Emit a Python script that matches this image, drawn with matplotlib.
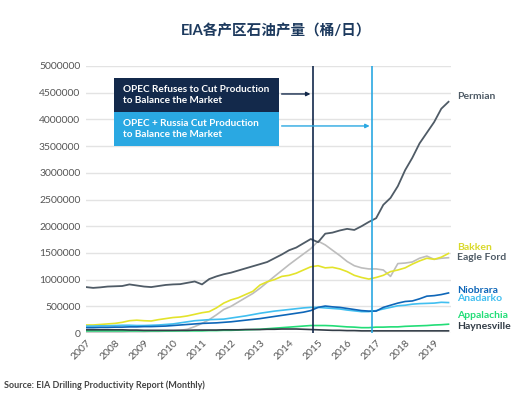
import numpy as np
import pandas as pd
import matplotlib
matplotlib.use("Agg")
import matplotlib.pyplot as plt

plt.rcParams['font.family'] = ['Lato', 'Noto Sans CJK SC', 'DejaVu Sans']

# ---------------- DATA (thousand barrels / day, quarterly) ----------------
dates = pd.date_range('2007-01-01', '2019-07-01', freq='QS')

permian = [860, 845, 855, 870, 875, 880, 910, 890, 870, 860, 880, 900,
           910, 915, 940, 965, 910, 1010, 1060, 1100, 1130, 1170, 1210, 1250,
           1290, 1330, 1400, 1470, 1550, 1600, 1680, 1760, 1700, 1860, 1880, 1920,
           1950, 1930, 2000, 2080, 2150, 2400, 2530, 2750, 3050, 3280, 3550, 3750,
           3950, 4200, 4330]
eagle_ford = [20, 20, 20, 20, 20, 20, 25, 25, 25, 30, 30, 35,
              40, 50, 70, 120, 180, 250, 340, 440, 500, 580, 660, 740,
              840, 950, 1060, 1170, 1280, 1380, 1480, 1580, 1720, 1650, 1550, 1450,
              1340, 1260, 1220, 1200, 1200, 1180, 1060, 1300, 1310, 1330, 1400, 1440,
              1380, 1400, 1410]
bakken = [150, 150, 160, 170, 180, 200, 230, 240, 230, 225, 250, 270,
          290, 300, 320, 350, 380, 400, 470, 560, 620, 660, 720, 780,
          900, 960, 1000, 1060, 1080, 1120, 1180, 1240, 1260, 1220, 1230, 1200,
          1150, 1080, 1040, 1010, 1040, 1080, 1150, 1180, 1220, 1290, 1350, 1400,
          1380, 1420, 1490]
niobrara = [100, 100, 105, 105, 110, 110, 115, 115, 120, 120, 125, 130,
            140, 150, 160, 170, 180, 185, 190, 200, 210, 225, 240, 255,
            270, 290, 310, 330, 350, 370, 390, 420, 480, 505, 490, 480,
            460, 440, 420, 410, 410, 480, 520, 560, 590, 600, 640, 690,
            700, 720, 750]
anadarko = [130, 130, 135, 135, 140, 145, 145, 140, 140, 145, 150, 160,
            170, 190, 210, 230, 240, 250, 255, 260, 280, 300, 320, 345,
            370, 390, 410, 425, 440, 455, 470, 480, 480, 470, 460, 450,
            430, 415, 400, 400, 420, 450, 480, 510, 520, 540, 550, 555,
            560, 575, 570]
appalachia = [40, 40, 40, 40, 40, 40, 40, 40, 40, 40, 40, 40,
              40, 40, 40, 40, 40, 45, 45, 50, 50, 55, 60, 65,
              70, 80, 90, 100, 110, 120, 130, 140, 140, 140, 135, 125,
              115, 110, 100, 100, 110, 110, 115, 115, 125, 130, 135, 140,
              150, 155, 165]
haynesville = [60, 60, 60, 60, 60, 60, 55, 55, 50, 50, 50, 50,
               50, 50, 50, 55, 55, 55, 55, 60, 60, 60, 65, 65,
               65, 70, 70, 75, 75, 75, 70, 65, 60, 55, 50, 50,
               45, 45, 40, 40, 40, 40, 40, 40, 40, 40, 40, 40,
               40, 40, 40]

# name, values, line colour, label colour, label y (barrels/day)
series = [
    ("Eagle Ford", eagle_ford, "#bdbdbd", "#4f5b66", 1420000),
    ("Bakken", bakken, "#e3e32b", "#d9d92a", 1610000),
    ("Anadarko", anadarko, "#41bff0", "#41bff0", 637000),
    ("Niobrara", niobrara, "#0e66b8", "#0e66b8", 805000),
    ("Appalachia", appalachia, "#22dd77", "#22dd77", 337000),
    ("Haynesville", haynesville, "#333d47", "#333d47", 131000),
    ("Permian", permian, "#4f5b66", "#4f5b66", 4420000),
]

years = list(range(2007, 2020))
y_ticks = list(range(0, 5000001, 500000))

event1 = pd.Timestamp('2014-11-01')
event2 = pd.Timestamp('2016-11-15')

NAVY = "#13294b"
LIGHT = "#2aa8e2"

# ---------------- PLOT ----------------
fig = plt.figure(figsize=(5.17, 3.94), dpi=100)
ax = fig.add_axes([0.1663, 0.1548, 0.7060, 0.6777])

for name, vals, lc, tc, ly in series:
    ax.plot(dates, np.array(vals) * 1000, color=lc, lw=1.3 if name == "Permian" else 1.2)
    ax.annotate(name, xy=(1.016, ly), xycoords=('axes fraction', 'data'),
                color=tc, fontsize=7.5, fontweight='bold', va='center', ha='left',
                annotation_clip=False)

ax.set_xlim(pd.Timestamp('2007-01-01'), pd.Timestamp('2019-08-01'))
ax.set_ylim(0, 5000000)
ax.set_yticks(y_ticks)
ax.set_yticklabels([str(v) for v in y_ticks])
ax.set_xticks([pd.Timestamp(f'{y}-01-01') for y in years])
ax.set_xticklabels([str(y) for y in years], rotation=45, ha='right',
                   rotation_mode='anchor')
ax.tick_params(length=0, labelsize=7.5, labelcolor='#555555', pad=4)
ax.grid(axis='y', color='#e3e3e3', lw=1)
ax.set_axisbelow(True)
for s in ax.spines.values():
    s.set_visible(False)

# event lines
ax.axvline(event1, color=NAVY, lw=1.2)
ax.axvline(event2, color=LIGHT, lw=1.2)

# annotation boxes
bx0, bx1 = pd.Timestamp('2007-12-20'), pd.Timestamp('2013-08-25')
ax.fill_between([bx0, bx1], 4140000, 4775000, color=NAVY, lw=0, zorder=5)
ax.fill_between([bx0, bx1], 3500000, 4140000, color=LIGHT, lw=0, zorder=5)
tx = pd.Timestamp('2008-04-10')
ax.text(tx, 4457000, "OPEC Refuses to Cut Production\nto Balance the Market",
        color='white', fontsize=7.2, fontweight='bold', va='center', ha='left',
        linespacing=1.25, zorder=6)
ax.text(tx, 3820000, "OPEC + Russia Cut Production\nto Balance the Market",
        color='white', fontsize=7.2, fontweight='bold', va='center', ha='left',
        linespacing=1.25, zorder=6)
ax.annotate("", xy=(event1, 4476000), xytext=(bx1, 4476000),
            arrowprops=dict(arrowstyle='-|>', color=NAVY, lw=1, mutation_scale=6),
            zorder=6)
ax.annotate("", xy=(event2, 3877000), xytext=(bx1, 3877000),
            arrowprops=dict(arrowstyle='-|>', color=LIGHT, lw=1, mutation_scale=6),
            zorder=6)

fig.text(0.534, 0.921, "EIA各产区石油产量（桶/日）", ha='center', va='center',
         fontsize=10.5, color='#1d3a5e', fontweight='bold')
fig.text(0.008, 0.023, "Source: EIA Drilling Productivity Report (Monthly)",
         ha='left', va='center', fontsize=6.5, color='#444444', fontweight='bold')

fig.savefig("out.png", dpi=100)
